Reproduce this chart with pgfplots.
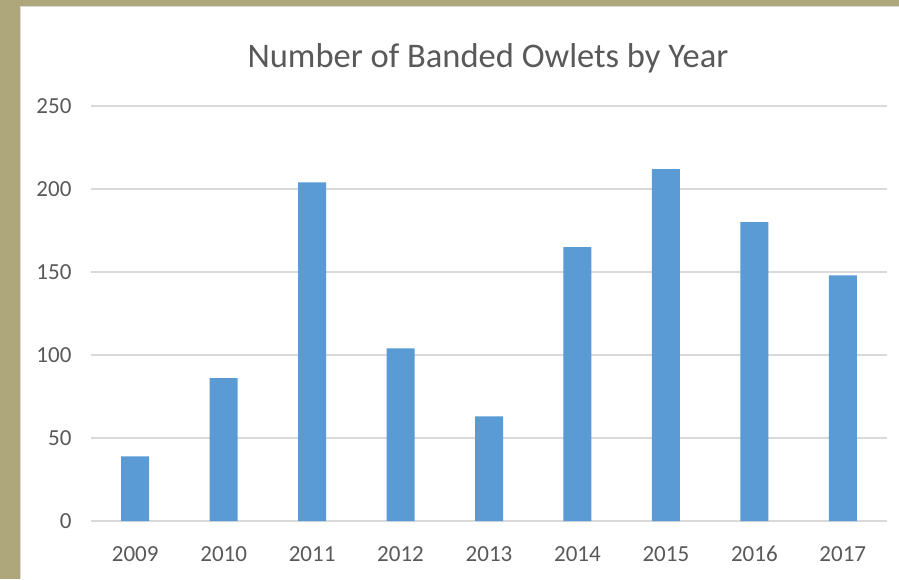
\documentclass[border=0pt]{standalone}
\usepackage{fontspec}
\setmainfont{Carlito}
\usepackage{pgfplots}
\pgfplotsset{compat=1.18}
\definecolor{khaki}{HTML}{ADA77B}
\definecolor{barblue}{HTML}{5B9BD5}
\definecolor{gridgray}{HTML}{D9D9D9}
\definecolor{txtgray}{HTML}{595959}
\begin{document}
\begin{tikzpicture}[x=1pt,y=1pt]
\useasboundingbox (0,0) rectangle (899,579);
\fill[khaki] (0,0) rectangle (899,579);
\fill[white] (20,0) rectangle (899,573);
\draw[gridgray,line width=1.2pt] (20.6,0) -- (20.6,572.4) -- (899,572.4);
\node[text=txtgray,font=\fontsize{34.5}{40}\selectfont] at (488,521) {Number of Banded Owlets by Year};
\begin{axis}[
  at={(91pt,58pt)}, anchor=south west,
  width=796pt, height=415pt, scale only axis,
  xmin=-0.5, xmax=8.5, ymin=0, ymax=250,
  ytick={0,50,100,150,200,250},
  xtick={0,...,8},
  xticklabels={2009,2010,2011,2012,2013,2014,2015,2016,2017},
  axis line style={draw=none},
  major tick length=0pt,
  ymajorgrids, grid style={gridgray,line width=1.2pt},
  tick label style={text=txtgray,font=\fontsize{23}{27}\selectfont},
  /pgf/number format/assume math mode=true,
  yticklabel style={xshift=-16pt},
  xticklabel style={anchor=base, yshift=-40pt},
  clip=false,
]
\addplot[ybar, bar width=28pt, bar shift=0pt, fill=barblue, draw=none] coordinates {
(0,39) (1,86) (2,204) (3,104) (4,63) (5,165) (6,212) (7,180) (8,148)
};
\end{axis}
\end{tikzpicture}
\end{document}
